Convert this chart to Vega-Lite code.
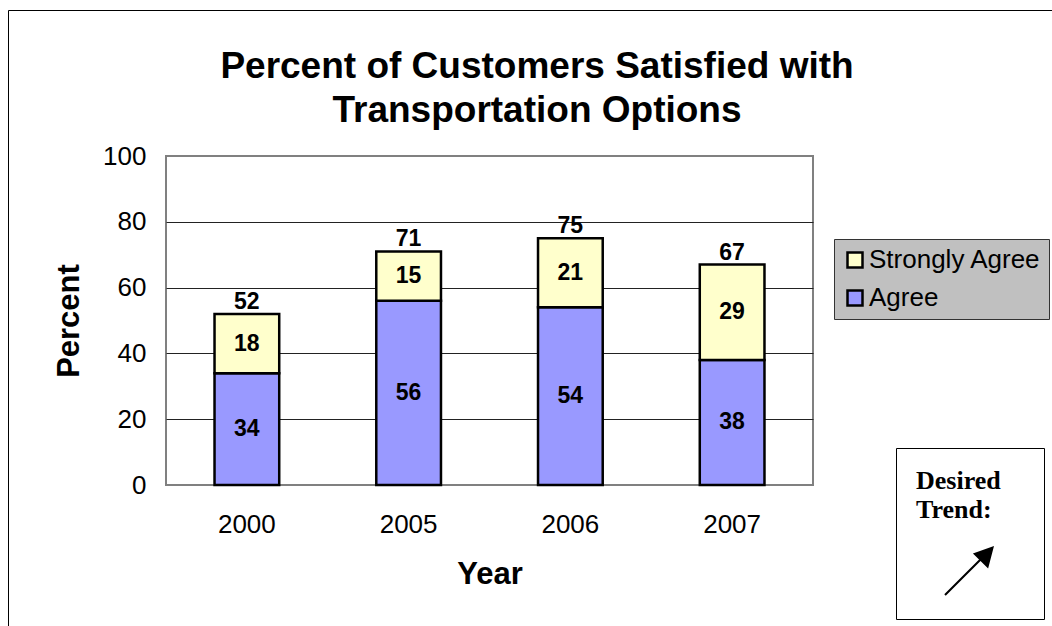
{
  "$schema": "https://vega.github.io/schema/vega-lite/v6.json",
  "width": 647,
  "height": 329,
  "autosize": "none",
  "padding": {"left": 166, "top": 156, "right": 239, "bottom": 141},
  "background": "white",
  "config": {
    "font": "Liberation Sans",
    "view": {"fill": "#C0C0C0", "stroke": "#808080", "strokeWidth": 2}
  },
  "title": {
    "text": ["Percent of Customers Satisfied with", "Transportation Options"],
    "font": "Liberation Sans",
    "fontSize": 37,
    "fontWeight": "bold",
    "color": "black",
    "lineHeight": 44,
    "anchor": "middle",
    "frame": "group",
    "baseline": "bottom",
    "dx": 47.5,
    "dy": 157,
    "offset": 0
  },
  "datasets": {
    "survey": [
      {"year": "2000", "level": "Agree", "value": 34},
      {"year": "2000", "level": "Strongly Agree", "value": 18},
      {"year": "2005", "level": "Agree", "value": 56},
      {"year": "2005", "level": "Strongly Agree", "value": 15},
      {"year": "2006", "level": "Agree", "value": 54},
      {"year": "2006", "level": "Strongly Agree", "value": 21},
      {"year": "2007", "level": "Agree", "value": 38},
      {"year": "2007", "level": "Strongly Agree", "value": 29}
    ],
    "notes": [{"note": "Desired Trend:", "frame": "chart border"}]
  },
  "layer": [
    {
      "data": {"name": "survey"},
      "mark": {"type": "bar", "stroke": "black", "strokeWidth": 2.5},
      "encoding": {
        "x": {
          "field": "year",
          "type": "ordinal",
          "scale": {"paddingInner": 0.6, "paddingOuter": 0.3},
          "axis": {
            "title": "Year",
            "labelAngle": 0,
            "labelFontSize": 26,
            "labelColor": "black",
            "labelPadding": 26,
            "ticks": false,
            "domain": false,
            "titleFontSize": 31,
            "titleFontWeight": "bold",
            "titleColor": "black",
            "titleX": 323.5,
            "titleY": 98,
            "titleAlign": "center",
            "titleBaseline": "alphabetic"
          }
        },
        "y": {
          "field": "value",
          "type": "quantitative",
          "stack": "zero",
          "scale": {"domain": [0, 100]},
          "axis": {
            "title": "Percent",
            "values": [0, 20, 40, 60, 80, 100],
            "grid": true,
            "gridColor": {"condition": {"test": "datum.value === 0 || datum.value === 100", "value": "transparent"}, "value": "#222222"},
            "gridWidth": 1,
            "ticks": false,
            "domain": false,
            "labelFontSize": 26,
            "labelColor": "black",
            "labelPadding": 20,
            "titleFontSize": 31,
            "titleFontWeight": "bold",
            "titleColor": "black",
            "titleAngle": -90,
            "titleX": -97,
            "titleY": 164.5,
            "titleAlign": "center",
            "titleBaseline": "middle"
          }
        },
        "color": {
          "field": "level",
          "type": "nominal",
          "scale": {"domain": ["Strongly Agree", "Agree"], "range": ["#FFFFCC", "#9999FF"]},
          "legend": {
            "title": null,
            "orient": "none",
            "legendX": 668,
            "legendY": 83,
            "fillColor": "#C0C0C0",
            "strokeColor": "#333333",
            "padding": 8,
            "symbolType": "square",
            "symbolSize": 225,
            "symbolStrokeColor": "black",
            "symbolStrokeWidth": 2.5,
            "symbolOpacity": 1,
            "labelFontSize": 26,
            "labelColor": "black",
            "labelOffset": 1,
            "labelLimit": 300,
            "rowPadding": 12
          }
        },
        "order": {"field": "level", "sort": "ascending"}
      }
    },
    {
      "data": {"name": "survey"},
      "transform": [
        {"stack": "value", "groupby": ["year"], "sort": [{"field": "level", "order": "ascending"}], "as": ["v0", "v1"]},
        {"fold": ["v0", "v1"], "as": ["edge", "pos"]}
      ],
      "mark": {"type": "text", "fontSize": 23, "fontWeight": "bold", "color": "black", "baseline": "middle"},
      "encoding": {
        "x": {"field": "year", "type": "ordinal"},
        "y": {"aggregate": "mean", "field": "pos", "type": "quantitative", "stack": null},
        "text": {"field": "value", "type": "quantitative"},
        "detail": {"field": "level", "type": "nominal"}
      }
    },
    {
      "data": {"name": "survey"},
      "mark": {"type": "text", "fontSize": 23, "fontWeight": "bold", "color": "black", "baseline": "middle", "dy": -12},
      "encoding": {
        "x": {"field": "year", "type": "ordinal"},
        "y": {"aggregate": "sum", "field": "value", "type": "quantitative", "stack": null},
        "text": {"aggregate": "sum", "field": "value", "type": "quantitative"}
      }
    },
    {
      "data": {"name": "notes"},
      "mark": {"type": "point", "opacity": 0, "size": 0, "filled": true, "color": "black", "fill": "black"},
      "encoding": {
        "shape": {
          "field": "note",
          "type": "nominal",
          "scale": {"range": ["M-0.97,1.03L0.48,-0.42L0.42,-0.48L-1.03,0.97ZM1,-1L0.14,-0.69L0.76,-0.08Z"]},
          "legend": {
            "title": ["Desired", "Trend:"],
            "orient": "none",
            "legendX": 730,
            "legendY": 292,
            "fillColor": "white",
            "strokeColor": "black",
            "padding": 20,
            "titleFont": "Liberation Serif",
            "titleFontSize": 26,
            "titleFontWeight": "bold",
            "titleColor": "black",
            "titleLineHeight": 29,
            "titleAnchor": "start",
            "titleAlign": "left",
            "titlePadding": 22,
            "symbolSize": 2400,
            "symbolOffset": 28,
            "symbolFillColor": "black",
            "labelExpr": "'---'",
            "labelOpacity": 0,
            "labelFontSize": 26,
            "labelOffset": 3,
            "encode": {
              "legend": {"update": {"strokeWidth": {"value": 2}}},
              "symbols": {"update": {"opacity": {"value": 1}, "size": {"value": 2400}, "fill": {"value": "black"}, "fillOpacity": {"value": 1}}}
            }
          }
        },
        "strokeDash": {
          "field": "frame",
          "type": "nominal",
          "legend": {
            "title": null,
            "orient": "none",
            "legendX": -158,
            "legendY": -146,
            "padding": 540,
            "strokeColor": "black",
            "labelExpr": "''",
            "symbolSize": 0,
            "symbolOpacity": 0,
            "encode": {"legend": {"update": {"strokeWidth": {"value": 1.5}}}}
          }
        }
      }
    }
  ]
}
